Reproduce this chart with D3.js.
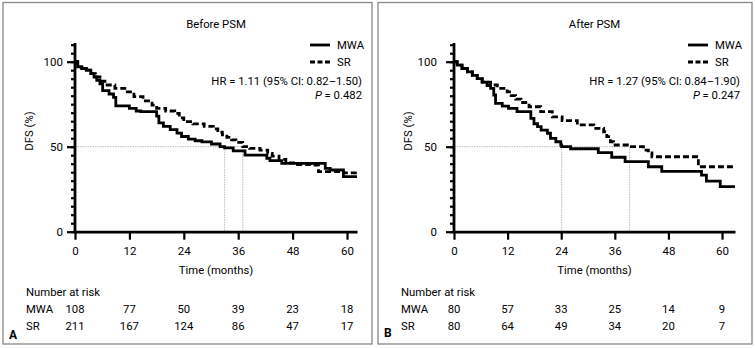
<!DOCTYPE html>
<html>
<head>
<meta charset="utf-8">
<script src="https://cdn.jsdelivr.net/npm/d3@7"></script>
<style>
  body { margin: 0; background: #fff; }
  svg text { font-family: Roboto, "Liberation Sans", sans-serif; font-size: 11.3px; fill: #000; }
</style>
</head>
<body>
<div id="chart"></div>
<script>
// step points: [month, DFS %]
var beforeMWA = [[0,100],[0.6,97],[1.5,96],[2.5,95],[3.5,93],[4.2,91],[4.8,89],[5.5,87],[6.1,83],[7.5,81],[8.5,79],[9,74],[12,72.5],[13.5,71],[14.5,70.6],[18,68],[18.5,64],[19.5,62],[21,60],[22.5,58],[23.5,56],[25,54.5],[26.5,53.5],[28,52.8],[30.1,51.6],[32,50],[33,49.3],[34.9,47.6],[37.5,45.1],[42.3,43.2],[43,41.8],[45.6,40.2],[55.2,37.3],[56.3,36.3],[59.2,32.4],[62.2,32.4]];
var beforeSR = [[0,100],[0.6,97],[1.5,96],[2.5,95],[3.5,93],[4.5,91],[5.5,88.5],[6.6,86.3],[8.8,84.3],[11,82.3],[13,79.5],[15,77],[17,74.5],[18,72.6],[20,71],[22,69.6],[23,67],[24,64.7],[26,63.4],[28.5,62],[30.5,60.5],[31.5,58.5],[32.5,57],[33.5,55.5],[34.5,54],[35.5,52.5],[37,50],[38.5,49],[40.8,48],[42.5,46],[43.5,44.5],[45,42.5],[46.5,40.5],[48.2,39.5],[52,39.2],[53.7,35.3],[59.2,34.6],[62.2,34.6]];
var afterMWA = [[0,100],[0.7,98],[1.8,96],[3,94],[4.1,92],[5.2,90],[6.3,88],[7.4,86],[8.2,84.3],[8.9,80.4],[9.3,75.5],[10.8,73.9],[12.2,72.6],[14.1,70.6],[17.2,66.7],[17.9,63.5],[18.7,61.8],[19.5,59.8],[20.9,57.9],[21.6,54.9],[22.8,52.9],[23.9,51],[24.1,50],[26.1,48.8],[32.3,46.5],[35.3,43.8],[38.3,41.2],[43.5,38.2],[46.5,35.5],[55.4,33.3],[56.5,29.8],[59.6,26.5],[62.9,26.5]];
var afterSR = [[0,100],[0.7,98],[1.8,96],[3,94],[4.1,92],[5.2,90],[6.3,88],[8.2,86.3],[9.7,84.3],[11.9,82.3],[12.8,80],[13.8,78],[15,76],[16.8,73.5],[19.4,70.6],[22,67.6],[24.2,65.3],[27.6,62.8],[31.3,60.8],[33.5,58.8],[34.2,55.9],[35,52.9],[35.7,51],[39.3,50],[42.4,48],[43.5,46.3],[44.3,44.1],[54.7,38.2],[62.9,38.2]];

var beforeMedians = [33, 37];
var afterMedians = [24.1, 39.3];

var months = [0, 12, 24, 36, 48, 60];
var riskBeforeMWA = [108, 77, 50, 39, 23, 18];
var riskBeforeSR = [211, 167, 124, 86, 47, 17];
var riskAfterMWA = [80, 57, 33, 25, 14, 9];
var riskAfterSR = [80, 64, 49, 34, 20, 7];

var width = 755, height = 348;
var svg = d3.select("#chart").append("svg")
    .attr("width", width)
    .attr("height", height);

function drawPanel(p) {
    var g = svg.append("g");
    g.append("rect")
        .attr("x", p.box[0]).attr("y", 2.5)
        .attr("width", p.box[1] - p.box[0]).attr("height", 341.5)
        .attr("fill", "none").attr("stroke", "#888").attr("stroke-width", 1.3);

    var x = d3.scaleLinear().domain([0, p.xMax]).range([p.left, p.right]);
    var y = d3.scaleLinear().domain([0, 100]).range([231.7, 61.7]);

    // median reference lines
    var ref = g.append("g").attr("stroke", "#bbb").attr("stroke-width", 1).attr("stroke-dasharray", "1.5,1");
    ref.append("line")
        .attr("x1", x(0)).attr("x2", x(d3.max(p.medians)))
        .attr("y1", y(50)).attr("y2", y(50));
    p.medians.forEach(function(m) {
        ref.append("line")
            .attr("x1", x(m)).attr("x2", x(m))
            .attr("y1", y(50)).attr("y2", y(0));
    });

    var line = d3.line()
        .x(d => x(d[0]))
        .y(d => y(d[1]))
        .curve(d3.curveStepAfter);

    g.append("path").datum(p.sr)
        .attr("d", line).attr("fill", "none")
        .attr("stroke", "#000").attr("stroke-width", 2.8)
        .attr("stroke-dasharray", "6,3");
    g.append("path").datum(p.mwa)
        .attr("d", line).attr("fill", "none")
        .attr("stroke", "#000").attr("stroke-width", 2.8);

    // y axis: minor ticks every 5, major at 0/50/100
    var yMinor = g.append("g")
        .attr("transform", `translate(${p.left},0)`)
        .call(d3.axisLeft(d3.scaleLinear().domain([0, 111]).range([231.7, 231.7 - 111 * 1.7]))
            .tickValues(d3.range(0, 111, 5)).tickSize(4).tickFormat(""));
    yMinor.select(".domain").attr("stroke-width", 2.8).attr("d", `M0,${y(0)}V${y(111)}`);
    yMinor.selectAll(".tick line").attr("stroke-width", 2.2);
    var yMajor = g.append("g")
        .attr("transform", `translate(${p.left},0)`)
        .call(d3.axisLeft(y).tickValues([0, 50, 100]).tickSize(8).tickPadding(p.yPad));
    yMajor.select(".domain").remove();
    yMajor.selectAll(".tick line").attr("stroke-width", 2.2);
    yMajor.selectAll("text").style("font-size", "11.5px");

    var xAxis = g.append("g")
        .attr("transform", `translate(0,${y(0)})`)
        .call(d3.axisBottom(x).tickValues(months).tickSize(8).tickPadding(7).tickSizeOuter(0));
    xAxis.select(".domain").attr("stroke-width", 2.8);
    xAxis.selectAll(".tick line").attr("stroke-width", 2.2);
    xAxis.selectAll("text").style("font-size", "11.5px");

    g.append("text")
        .attr("x", (p.left + p.right) / 2).attr("y", 28)
        .attr("text-anchor", "middle").text(p.title);
    g.append("text")
        .attr("x", (p.left + p.right) / 2).attr("y", 274)
        .attr("text-anchor", "middle").text("Time (months)");
    g.append("text")
        .attr("transform", `translate(${p.left - 42},131) rotate(-90)`)
        .attr("text-anchor", "middle").text("DFS (%)");

    // legend
    var lx = p.right - 47;
    g.append("line").attr("x1", lx).attr("x2", lx + 20).attr("y1", 45).attr("y2", 45)
        .attr("stroke", "#000").attr("stroke-width", 2.8);
    g.append("line").attr("x1", lx).attr("x2", lx + 20).attr("y1", 62).attr("y2", 62)
        .attr("stroke", "#000").attr("stroke-width", 2.8).attr("stroke-dasharray", "5,2.5");
    g.append("text").attr("x", lx + 27).attr("y", 49).text("MWA");
    g.append("text").attr("x", lx + 27).attr("y", 66).text("SR");
    g.append("text").attr("x", p.right + 5).attr("y", 85)
        .attr("text-anchor", "end").text(p.hr);
    var pt = g.append("text").attr("x", p.right + 5).attr("y", 99).attr("text-anchor", "end");
    pt.append("tspan").attr("font-style", "italic").text("P");
    pt.append("tspan").text(" = " + p.pval);

    // number at risk
    g.append("text").attr("x", p.box[0] + 23).attr("y", 296).text("Number at risk");
    g.append("text").attr("x", p.box[0] + 23).attr("y", 313).text("MWA");
    g.append("text").attr("x", p.box[0] + 23).attr("y", 330).text("SR");
    g.selectAll(".riskM").data(p.riskM).join("text")
        .attr("x", (d, i) => x(months[i])).attr("y", 313)
        .attr("text-anchor", "middle").text(d => d);
    g.selectAll(".riskS").data(p.riskS).join("text")
        .attr("x", (d, i) => x(months[i])).attr("y", 330)
        .attr("text-anchor", "middle").text(d => d);

    g.append("text").attr("x", p.box[0] + 6).attr("y", p.letterY)
        .attr("font-weight", "bold").style("font-size", "12px").text(p.letter);
}

drawPanel({box: [3, 372], left: 75, right: 357, xMax: 62.2, yPad: 4,
    title: "Before PSM", mwa: beforeMWA, sr: beforeSR, medians: beforeMedians,
    hr: "HR = 1.11 (95% CI: 0.82\u20131.50)", pval: "0.482",
    riskM: riskBeforeMWA, riskS: riskBeforeSR, letter: "A", letterY: 339});
drawPanel({box: [378, 752], left: 454, right: 735, xMax: 62.9, yPad: 9,
    title: "After PSM", mwa: afterMWA, sr: afterSR, medians: afterMedians,
    hr: "HR = 1.27 (95% CI: 0.84\u20131.90)", pval: "0.247",
    riskM: riskAfterMWA, riskS: riskAfterSR, letter: "B", letterY: 337});
</script>
</body>
</html>
